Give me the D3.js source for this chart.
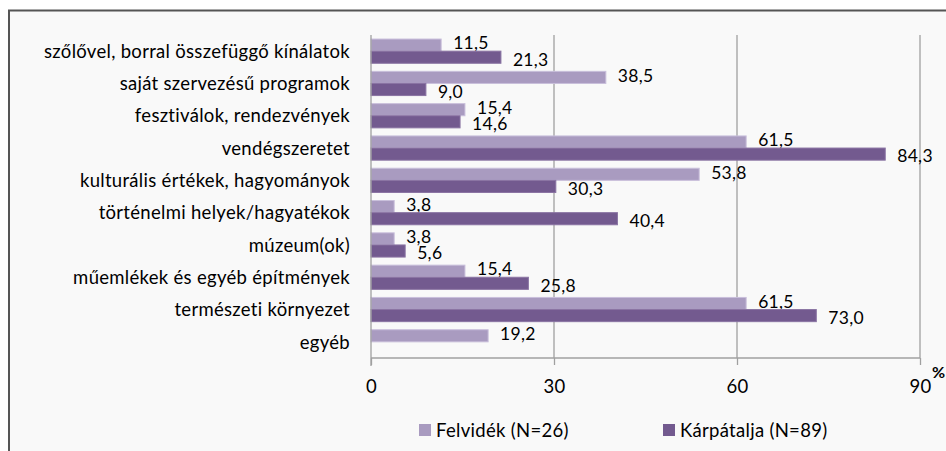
<!DOCTYPE html>
<html><head><meta charset="utf-8">
<script src="https://cdn.jsdelivr.net/npm/d3@7/dist/d3.min.js"></script>
<style>html,body{margin:0;padding:0;background:#fff;}svg{display:block;}</style>
</head><body>
<script>
const categories = ["szőlővel, borral összefüggő kínálatok","saját szervezésű programok","fesztiválok, rendezvények","vendégszeretet","kulturális értékek, hagyományok","történelmi helyek/hagyatékok","múzeum(ok)","műemlékek és egyéb építmények","természeti környezet","egyéb"];
const felvidek = [11.5,38.5,15.4,61.5,53.8,3.8,3.8,15.4,61.5,19.2];
const karpatalja = [21.3,9.0,14.6,84.3,30.3,40.4,5.6,25.8,73.0,null];
const seriesNames = ["Felvidék (N=26)","Kárpátalja (N=89)"];
const xTicks = [0,30,60,90];

const W=946,H=451;
const font="Lato, 'Open Sans', sans-serif";
const fs=18.5, ls="0.3px";
const svg=d3.select("body").append("svg").attr("width",W).attr("height",H);
svg.append("rect").attr("x",9).attr("y",10.5).attr("width",W+20).attr("height",H+20)
  .attr("fill","#f9f9f9").attr("stroke","#555").attr("stroke-width",2);

const m={l:371,r:920,t:35,b:358};
const x=d3.scaleLinear().domain([0,90]).range([m.l,m.r]);
const y=d3.scaleBand().domain(categories).range([m.t,m.b]).paddingInner(0.25).paddingOuter(0.125);
const y2=d3.scaleBand().domain([0,1]).range([0,y.bandwidth()]);

svg.append("g").selectAll("line").data(xTicks.slice(1)).join("line")
  .attr("x1",d=>x(d)).attr("x2",d=>x(d)).attr("y1",m.t).attr("y2",m.b)
  .attr("stroke","#a0a0a0").attr("stroke-width",1.3);

const colors=["#a99bc0","#735a8f"];
const strokes=["#c9bfdb","#8a74a3"];
const data=categories.map((c,i)=>({c,v:[felvidek[i],karpatalja[i]]}));
const g=svg.append("g");
data.forEach(d=>{
  d.v.forEach((v,k)=>{
    if(v==null) return;
    const yy=y(d.c)+y2(k);
    g.append("rect").attr("x",x(0)).attr("y",yy).attr("width",x(v)-x(0)).attr("height",y2.bandwidth())
      .attr("fill",colors[k]).attr("stroke",strokes[k]).attr("stroke-width",1);
    g.append("text").attr("x",x(v)+12).attr("y",yy+y2.bandwidth()/2+(k?2:-2)).attr("dy","0.36em")
      .attr("font-family",font).attr("font-size",17.5).attr("letter-spacing",ls).attr("fill","#000")
      .text(d3.format(".1f")(v).replace(".",","));
  });
});

svg.append("line").attr("x1",x(0)).attr("x2",x(0)).attr("y1",m.t).attr("y2",m.b+8).attr("stroke","#a0a0a0").attr("stroke-width",1.3);
const xa=svg.append("g").attr("transform",`translate(0,${m.b})`).call(d3.axisBottom(x).tickValues(xTicks).tickSize(7).tickPadding(15).tickFormat(d3.format("d")));
xa.select(".domain").attr("stroke","#a0a0a0").attr("stroke-width",1.3).attr("d",`M${m.l},0H${m.r}`);
xa.selectAll(".tick line").attr("stroke","#a0a0a0").attr("stroke-width",1.3);
xa.selectAll(".tick text").attr("font-family",font).attr("font-size",fs).attr("letter-spacing",ls).attr("fill","#000");
svg.append("text").attr("x",932).attr("y",378).attr("font-family",font).attr("font-weight","bold").attr("font-size",16).text("%");

svg.append("g").selectAll("text").data(categories).join("text")
  .attr("x",350).attr("y",d=>y(d)+y.bandwidth()/2).attr("dy","0.36em").attr("text-anchor","end")
  .attr("font-family",font).attr("font-size",fs).attr("letter-spacing",ls).attr("fill","#000").text(d=>d);

const lg=[{x:419},{x:663}];
seriesNames.forEach((s,k)=>{
  svg.append("rect").attr("x",lg[k].x).attr("y",424).attr("width",12).attr("height",12).attr("fill",colors[k]);
  svg.append("text").attr("x",lg[k].x+17).attr("y",430).attr("dy","0.36em")
    .attr("font-family",font).attr("font-size",fs).attr("letter-spacing",ls).text(s);
});
</script>
</body></html>
